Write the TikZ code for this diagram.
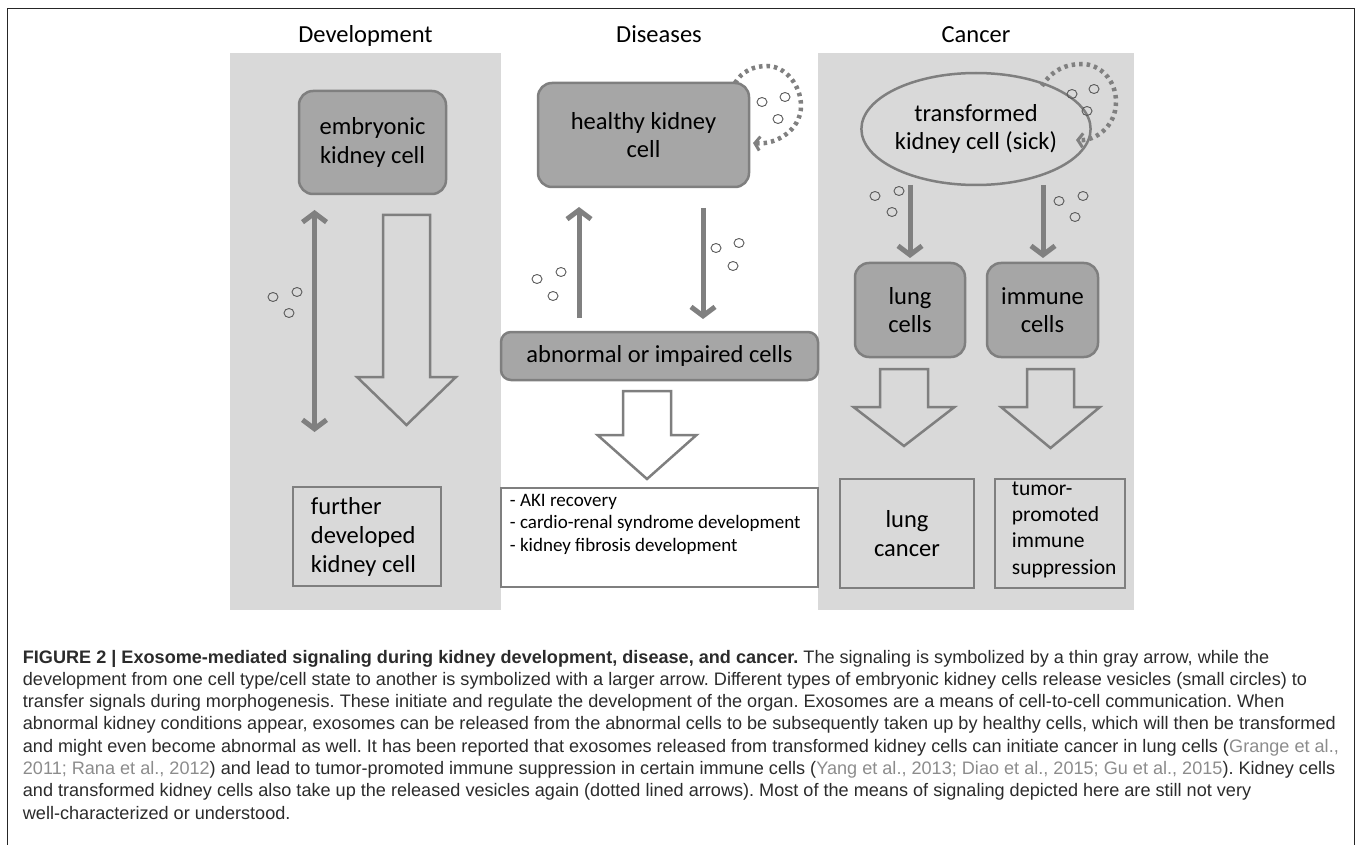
\documentclass[tikz,border=0pt]{standalone}
\usepackage{fontspec}
\setmainfont{Carlito}
\newfontfamily\capfont{Liberation Sans}
\usetikzlibrary{arrows.meta,shapes.geometric}
\definecolor{panel}{HTML}{D9D9D9}
\definecolor{cellfill}{HTML}{A6A6A6}
\definecolor{edgec}{HTML}{7F7F7F}
\definecolor{sigc}{HTML}{808080}
\definecolor{vesc}{HTML}{595959}
\definecolor{captxt}{HTML}{2B2B2B}
\definecolor{citec}{HTML}{8C8C8C}
\newcommand\labf{\fontsize{24.5}{28.5}\selectfont}
\newcommand\furtherf{\fontsize{24.5}{29}\selectfont}
\newcommand\smallf{\fontsize{19}{22.7}\selectfont}
\newcommand\tumf{\fontsize{21.5}{26.3}\selectfont}
\newcommand\capf{\capfont\fontsize{18.1}{22.3}\selectfont}
\newcommand\hollowarr[6]{%
  \draw[hollow] ({#1-#2},#4) -- ({#1+#2},#4) -- ({#1+#2},#5) -- ({#1+#3},#5)
    -- (#1,#6) -- ({#1-#3},#5) -- ({#1-#2},#5) -- cycle;}
\frenchspacing
\begin{document}
\begin{tikzpicture}[x=1pt,y=-1pt,
  cellbox/.style={draw=edgec,line width=2.5pt,fill=cellfill,rounded corners=14pt,
    align=center,font=\labf,inner sep=0pt},
  outbox/.style={draw=edgec,line width=2.5pt,inner sep=0pt},
  title/.style={font=\labf,inner sep=0pt,anchor=base},
  sig/.style={draw=sigc,line width=5pt},
  dotloop/.style={draw=sigc,line width=4.5pt,dash pattern=on 3.5pt off 4pt,
    -{Straight Barb[length=5pt,width=14pt,line width=3pt]}},
  hollow/.style={draw=edgec,line width=2.5pt,line join=miter},
  ves/.style={draw=vesc,line width=0.9pt,ellipse,minimum width=10pt,minimum height=9pt,inner sep=0pt},
  capline/.style={anchor=base west,inner sep=0pt,font=\capf,text=captxt},
  >={Straight Barb[length=9pt,width=24pt]}
]
\useasboundingbox (0,0) rectangle (1358,845);
% frame
\draw[line width=1.2pt,black!85] (7.3,845) -- (7.3,8.3) -- (1354.7,8.3) -- (1354.7,845);
% panels
\fill[panel] (230,53) rectangle (501,610);
\fill[panel] (818,53) rectangle (1134,610);
% titles
\node[title] (t1) at (365.5,43) {Development};
\node[title] (t2) at (659,43) {Diseases};
\node[title] (t3) at (976,43) {Cancer};

% ---------- Development ----------
\node[cellbox,minimum width=147pt,minimum height=103pt] (emb) at (372.5,142.5) {embryonic\\kidney cell};
\node[outbox,minimum width=148pt,minimum height=99pt] (further) at (367,536.5) {};
\node[anchor=west,align=left,font=\furtherf,inner sep=0pt] (furthertxt) at ([xshift=19pt]further.west) {further\\developed\\kidney cell};
\coordinate (d1a) at (314.5,210);
\coordinate (d1b) at (314.5,432);
\draw[sig,<->] (d1a) -- (d1b);
\hollowarr{406.5}{23.5}{49.5}{215}{377}{425}
\node[ves] (v1) at (273,297) {};
\node[ves] (v2) at (297,292) {};
\node[ves] (v3) at (289,313) {};

% ---------- Diseases ----------
\node[cellbox,minimum width=211pt,minimum height=104pt] (healthy) at (643.5,135) {healthy kidney\\cell};
\node[cellbox,minimum width=317pt,minimum height=48pt,rounded corners=10pt] (abn) at (659.5,356) {abnormal or impaired cells};
\node[outbox,fill=white,minimum width=317pt,minimum height=99pt] (aki) at (659.5,537.5) {};
\node[anchor=north west,align=left,font=\smallf,inner sep=0pt] (akitxt) at ([xshift=10pt,yshift=-7pt]aki.north west)
  {- AKI recovery\\- cardio-renal syndrome development\\- kidney fibrosis development};
\coordinate (m1a) at (579,318);
\coordinate (m1b) at (579,207);
\draw[sig,->] (m1a) -- (m1b);
\coordinate (m2a) at (703,208);
\coordinate (m2b) at (703,319);
\draw[sig,->] (m2a) -- (m2b);
\hollowarr{647}{24}{49.5}{391}{435}{479}
\node[ves] (v4) at (537,279) {};
\node[ves] (v5) at (561,272) {};
\node[ves] (v6) at (553,296) {};
\node[ves] (v7) at (716,248) {};
\node[ves] (v8) at (739,243) {};
\node[ves] (v9) at (733,266) {};
\node[ves] (v10) at (762,102) {};
\node[ves] (v11) at (785,97) {};
\node[ves] (v12) at (778,119) {};
\coordinate (hl0) at (735,83);
\coordinate (hl1) at (767,66);
\coordinate (hl2) at (801,106);
\coordinate (hl3) at (753,143);
\draw[dotloop] (hl0) .. controls (742,71) and (754,66) .. (hl1)
  .. controls (786,66) and (801,86) .. (hl2)
  .. controls (801,130) and (776,145) .. (hl3);

% ---------- Cancer ----------
\node[draw=edgec,line width=2.5pt,fill=panel,ellipse,minimum width=200pt,minimum height=112pt,
  inner sep=0pt,align=center,font=\labf] (trans) at (976,129) {transformed\\kidney cell (sick)};
\node[cellbox,minimum width=110pt,minimum height=94pt] (lung) at (910,310) {lung\\cells};
\node[cellbox,minimum width=111pt,minimum height=94pt] (immune) at (1042.5,310) {immune\\cells};
\node[outbox,minimum width=134pt,minimum height=109pt,align=center,font=\furtherf] (lungc) at (907,533.5) {lung\\cancer};
\node[outbox,minimum width=130pt,minimum height=109pt] (tumor) at (1060,533.5) {};
\node[anchor=west,align=left,font=\tumf,inner sep=0pt] (tumortxt) at ([xshift=18pt,yshift=4pt]tumor.west)
  {tumor-\\promoted\\immune\\suppression};
\coordinate (c1a) at (910,185);
\coordinate (c1b) at (910,258);
\draw[sig,->] (c1a) -- (c1b);
\coordinate (c2a) at (1043,185);
\coordinate (c2b) at (1043,258);
\draw[sig,->] (c2a) -- (c2b);
\hollowarr{904}{24}{50.5}{369}{407}{446}
\hollowarr{1050.5}{23.5}{49.5}{369}{407}{448}
\node[ves] (v13) at (1072,94) {};
\node[ves] (v14) at (1094,89) {};
\node[ves] (v15) at (1087,111) {};
\node[ves] (v16) at (875,196) {};
\node[ves] (v17) at (899,191) {};
\node[ves] (v18) at (892,212) {};
\node[ves] (v19) at (1059,201) {};
\node[ves] (v20) at (1083,196) {};
\node[ves] (v21) at (1075,217) {};
\coordinate (tl0) at (1042,86);
\coordinate (tl1) at (1082,64);
\coordinate (tl2) at (1116,102);
\coordinate (tl3) at (1076,140);
\draw[dotloop] (tl0) .. controls (1052,70) and (1066,64) .. (tl1)
  .. controls (1100,64) and (1116,80) .. (tl2)
  .. controls (1116,126) and (1096,141) .. (tl3);

% ---------- Caption ----------
\node[capline] (cap1) at (22.7,663) {\textbf{FIGURE 2 | Exosome-mediated signaling during kidney development, disease, and cancer.} The signaling is symbolized by a thin gray arrow, while the};
\node[capline] (cap2) at (22.7,685.3) {development from one cell type/cell state to another is symbolized with a larger arrow. Different types of embryonic kidney cells release vesicles (small circles) to};
\node[capline] (cap3) at (22.7,707.6) {transfer signals during morphogenesis. These initiate and regulate the development of the organ. Exosomes are a means of cell-to-cell communication. When};
\node[capline] (cap4) at (22.7,729.9) {abnormal kidney conditions appear, exosomes can be released from the abnormal cells to be subsequently taken up by healthy cells, which will then be transformed};
\node[capline] (cap5) at (22.7,752.2) {and might even become abnormal as well. It has been reported that exosomes released from transformed kidney cells can initiate cancer in lung cells ({\color{citec}Grange et al.,}};
\node[capline] (cap6) at (22.7,774.5) {{\color{citec}2011; Rana et al., 2012}) and lead to tumor-promoted immune suppression in certain immune cells ({\color{citec}Yang et al., 2013; Diao et al., 2015; Gu et al., 2015}). Kidney cells};
\node[capline] (cap7) at (22.7,796.8) {and transformed kidney cells also take up the released vesicles again (dotted lined arrows). Most of the means of signaling depicted here are still not very};
\node[capline] (cap8) at (22.7,819.1) {well-characterized or understood.};
\end{tikzpicture}
\end{document}
